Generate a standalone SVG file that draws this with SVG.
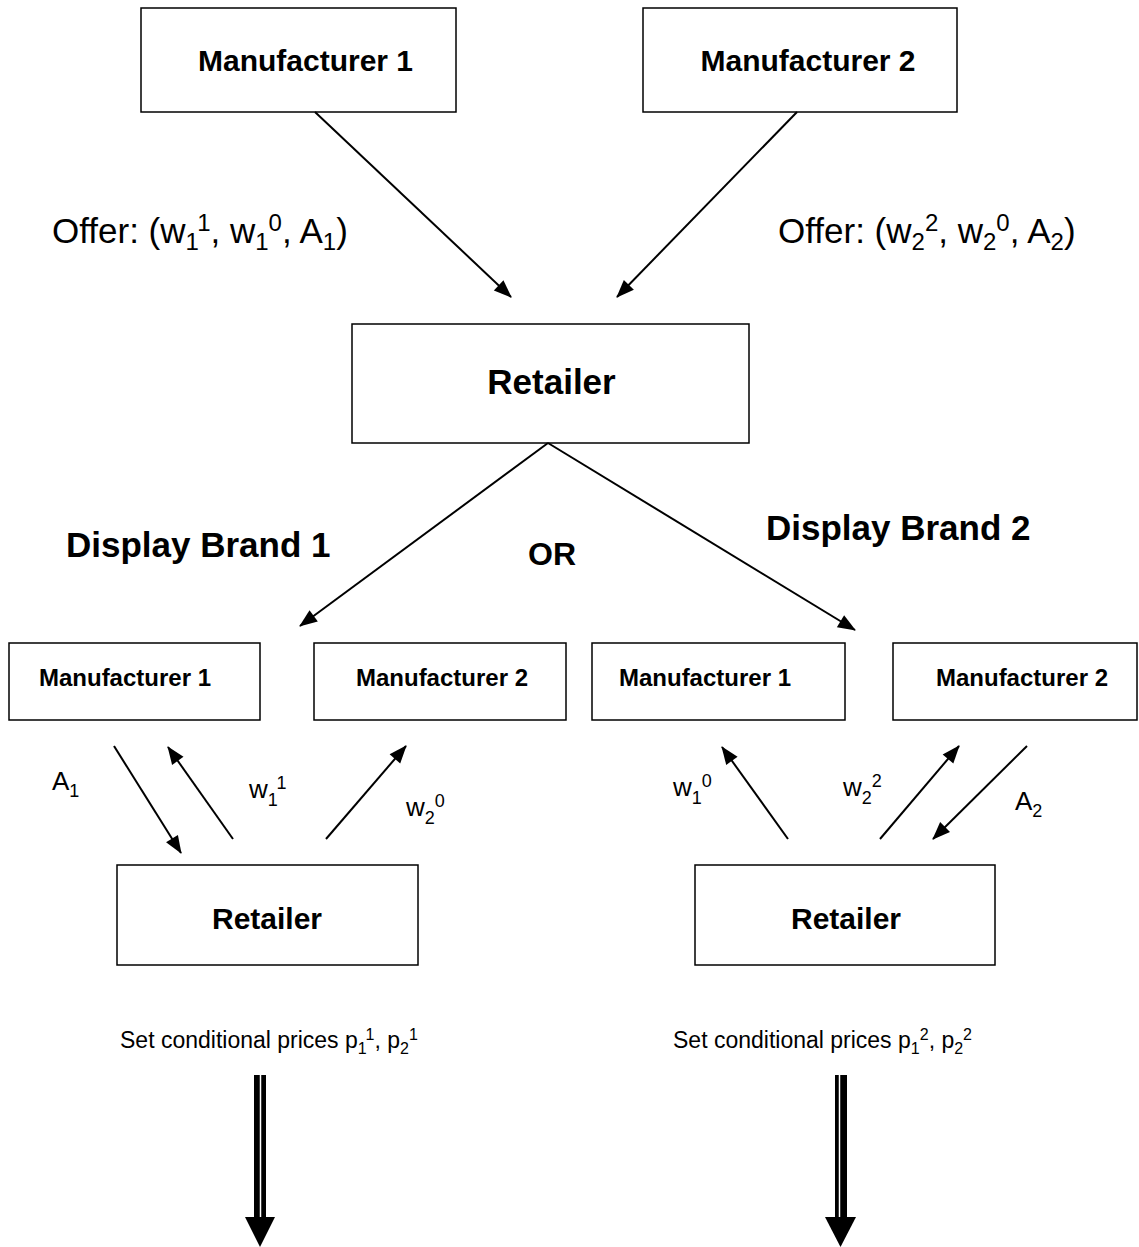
<svg xmlns="http://www.w3.org/2000/svg" width="1139" height="1247" viewBox="0 0 1139 1247">
<defs>
<style>
.box{fill:#fff;stroke:#000;stroke-width:1.5}
.t{font-family:"Liberation Sans",Arial,sans-serif;fill:#000}
.b{font-weight:bold;text-anchor:middle}
.c{stroke:#000;stroke-width:2;fill:none;marker-end:url(#ah)}
</style>
<marker id="ah" markerWidth="20" markerHeight="16" refX="17" refY="7" markerUnits="userSpaceOnUse" orient="auto" style="overflow:visible">
<path d="M0,0 L18,7 L0,14 z" fill="#000"/>
</marker>
</defs>
<rect width="1139" height="1247" fill="#fff"/>

<g id="m1-top"><rect class="box" x="141" y="8" width="315" height="104"/><text class="t b" x="305.5" y="71" font-size="30">Manufacturer 1</text></g>
<g id="m2-top"><rect class="box" x="643" y="8" width="314" height="104"/><text class="t b" x="808" y="71" font-size="30">Manufacturer 2</text></g>
<g id="retailer-top"><rect class="box" x="352" y="324" width="397" height="119"/><text class="t b" x="551.5" y="394" font-size="35">Retailer</text></g>

<g id="m1-a"><rect class="box" x="9" y="643" width="251" height="77"/><text class="t b" x="125" y="686" font-size="24">Manufacturer 1</text></g>
<g id="m2-a"><rect class="box" x="314" y="643" width="252" height="77"/><text class="t b" x="442" y="686" font-size="24">Manufacturer 2</text></g>
<g id="m1-b"><rect class="box" x="592" y="643" width="253" height="77"/><text class="t b" x="705" y="686" font-size="24">Manufacturer 1</text></g>
<g id="m2-b"><rect class="box" x="893" y="643" width="244" height="77"/><text class="t b" x="1022" y="686" font-size="24">Manufacturer 2</text></g>

<g id="retailer-a"><rect class="box" x="117" y="865" width="301" height="100"/><text class="t b" x="267" y="929" font-size="30">Retailer</text></g>
<g id="retailer-b"><rect class="box" x="695" y="865" width="300" height="100"/><text class="t b" x="846" y="929" font-size="30">Retailer</text></g>

<g id="labels">
<text class="t" x="52" y="243" font-size="35">Offer: (w<tspan font-size="24" dy="7">1</tspan><tspan font-size="24" dy="-19">1</tspan><tspan dy="12">, w</tspan><tspan font-size="24" dy="7">1</tspan><tspan font-size="24" dy="-19">0</tspan><tspan dy="12">, A</tspan><tspan font-size="24" dy="7">1</tspan><tspan dy="-7">)</tspan></text>
<text class="t" x="778" y="243" font-size="35">Offer: (w<tspan font-size="24" dy="7">2</tspan><tspan font-size="24" dy="-19">2</tspan><tspan dy="12">, w</tspan><tspan font-size="24" dy="7">2</tspan><tspan font-size="24" dy="-19">0</tspan><tspan dy="12">, A</tspan><tspan font-size="24" dy="7">2</tspan><tspan dy="-7">)</tspan></text>
<text class="t" x="66" y="557" font-size="35" font-weight="bold">Display Brand 1</text>
<text class="t" x="766" y="540" font-size="35" font-weight="bold">Display Brand 2</text>
<text class="t" x="528" y="565" font-size="32" font-weight="bold">OR</text>

<text class="t" x="52" y="790" font-size="26">A<tspan font-size="18" dy="7">1</tspan></text>
<text class="t" x="249" y="798" font-size="26">w<tspan font-size="18" dy="8">1</tspan><tspan font-size="18" dy="-17">1</tspan></text>
<text class="t" x="406" y="816" font-size="26">w<tspan font-size="18" dy="8">2</tspan><tspan font-size="18" dy="-17">0</tspan></text>
<text class="t" x="673" y="796" font-size="26">w<tspan font-size="18" dy="8">1</tspan><tspan font-size="18" dy="-17">0</tspan></text>
<text class="t" x="843" y="796" font-size="26">w<tspan font-size="18" dy="8">2</tspan><tspan font-size="18" dy="-17">2</tspan></text>
<text class="t" x="1015" y="810" font-size="26">A<tspan font-size="18" dy="7">2</tspan></text>

<text class="t" x="120" y="1048" font-size="23">Set conditional prices p<tspan font-size="16" dy="6">1</tspan><tspan font-size="16" dy="-14">1</tspan><tspan dy="8">, p</tspan><tspan font-size="16" dy="6">2</tspan><tspan font-size="16" dy="-14">1</tspan></text>
<text class="t" x="673" y="1048" font-size="23">Set conditional prices p<tspan font-size="16" dy="6">1</tspan><tspan font-size="16" dy="-14">2</tspan><tspan dy="8">, p</tspan><tspan font-size="16" dy="6">2</tspan><tspan font-size="16" dy="-14">2</tspan></text>
</g>

<g id="connectors">
<line class="c" x1="315" y1="112" x2="511" y2="297"/>
<line class="c" x1="797" y1="112" x2="617" y2="297"/>
<line class="c" x1="548" y1="443" x2="300" y2="626"/>
<line class="c" x1="548" y1="443" x2="855" y2="630"/>
<line class="c" x1="114" y1="746" x2="181" y2="853"/>
<line class="c" x1="233" y1="839" x2="168" y2="747"/>
<line class="c" x1="326" y1="839" x2="406" y2="746"/>
<line class="c" x1="788" y1="839" x2="722" y2="747"/>
<line class="c" x1="880" y1="839" x2="959" y2="746"/>
<line class="c" x1="1027" y1="746" x2="933" y2="839"/>
<g id="down-left">
<rect x="254" y="1075" width="12" height="143" fill="#000"/>
<line x1="260.5" y1="1075" x2="260.5" y2="1217" stroke="#fff" stroke-width="1.5"/>
<path d="M245,1217 L275,1217 L260,1247 z" fill="#000"/>
</g>
<g id="down-right">
<rect x="835" y="1075" width="12" height="143" fill="#000"/>
<line x1="839.5" y1="1075" x2="839.5" y2="1217" stroke="#fff" stroke-width="1.5"/>
<path d="M825,1217 L856,1217 L840.5,1247 z" fill="#000"/>
</g>
</g>
</svg>
